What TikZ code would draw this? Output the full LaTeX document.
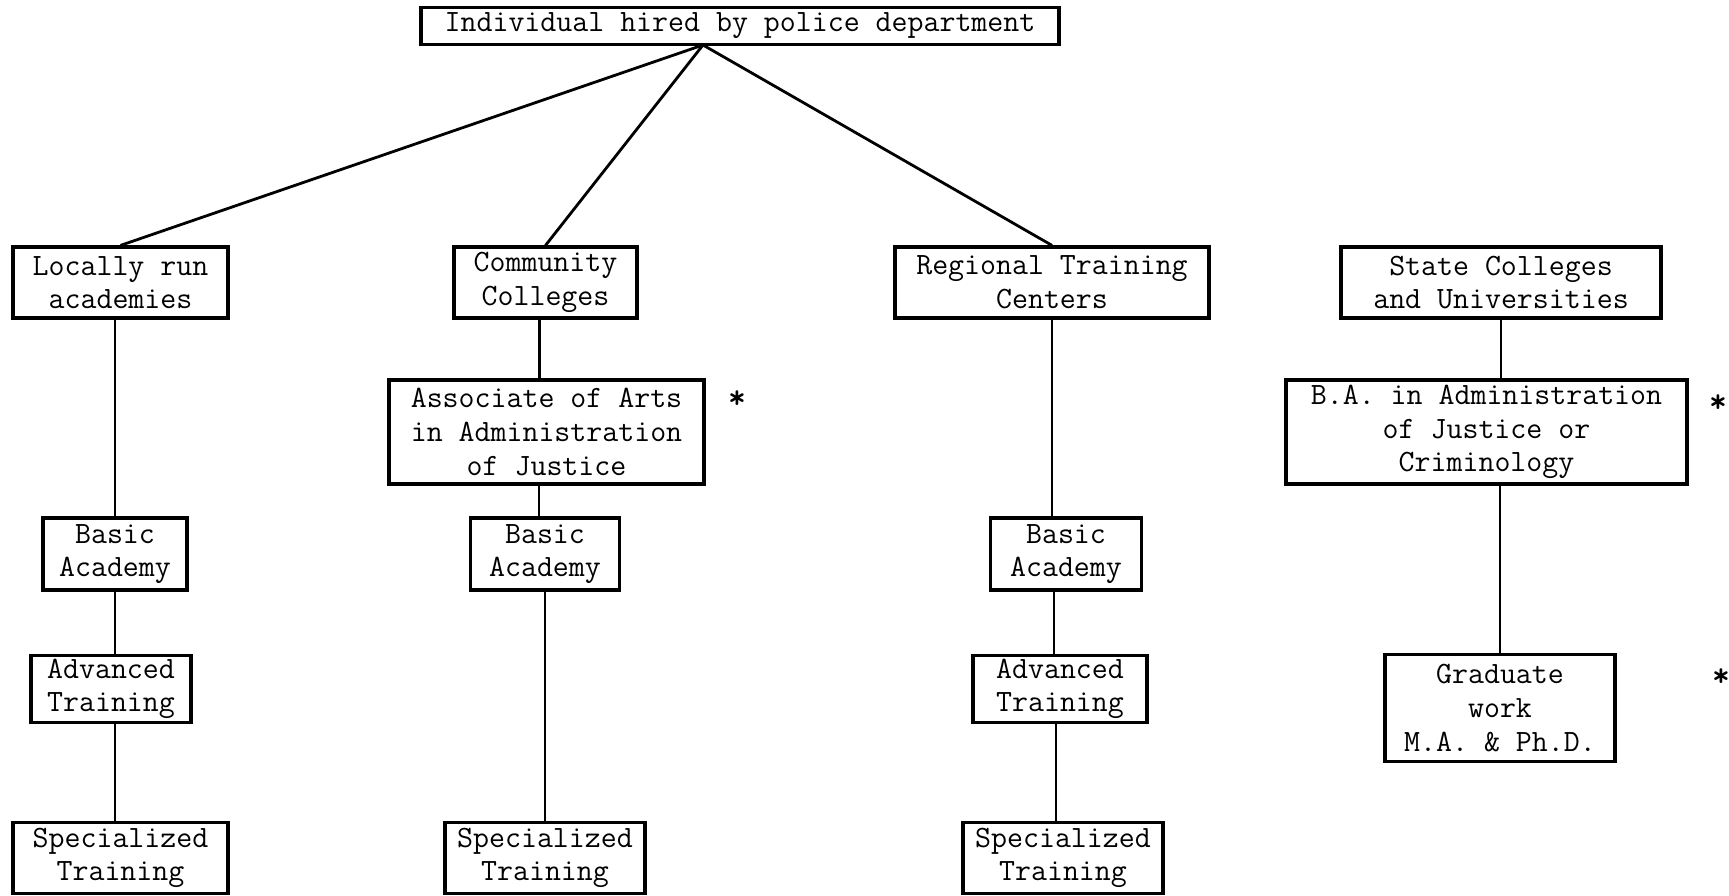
\documentclass[tikz,border=0pt]{standalone}
\usepackage{fontspec}
\begin{document}
\begin{tikzpicture}[x=0.5pt,y=-0.5pt,
  box/.style={draw, line width=1.6pt, align=center, inner sep=0pt,
    font=\ttfamily\fontsize{15.5}{16.8}\selectfont},
  conn/.style={line width=1.4pt},
  star/.style={inner sep=0pt, font=\ttfamily\bfseries\fontsize{17}{17}\selectfont}]
\useasboundingbox (0,0) rectangle (1729,895);
\node[box, minimum width=319pt, minimum height=18.5pt] (top) at (740,26) {Individual hired by police department};
\node[box, minimum width=107.5pt, minimum height=35.5pt] (loc) at (120.5,282.5) {Locally run\\academies};
\node[box, minimum width=91.5pt, minimum height=35.5pt] (cc) at (545.5,282.5) {Community\\Colleges};
\node[box, minimum width=157pt, minimum height=35.5pt] (rtc) at (1052,282.5) {Regional Training\\Centers};
\node[box, minimum width=160pt, minimum height=35.5pt] (scu) at (1501,282.5) {State Colleges\\and Universities};
\node[box, minimum width=157.5pt, minimum height=52pt] (aa) at (546.5,432) {Associate of Arts\\in Administration\\of Justice};
\node[box, minimum width=200.5pt, minimum height=52pt] (ba) at (1486.5,432) {B.A. in Administration\\of Justice or\\Criminology};
\node[box, minimum width=72pt, minimum height=36pt] (basL) at (115,554) {Basic\\Academy};
\node[box, minimum width=74.5pt, minimum height=36pt] (basM) at (545,554) {Basic\\Academy};
\node[box, minimum width=75.5pt, minimum height=36pt] (basR) at (1066,554) {Basic\\Academy};
\node[box, minimum width=80pt, minimum height=33.5pt] (advL) at (111,689) {Advanced\\Training};
\node[box, minimum width=87pt, minimum height=33.5pt] (advR) at (1060,689) {Advanced\\Training};
\node[box, minimum width=107.5pt, minimum height=35.5pt] (spL) at (120.5,858) {Specialized\\Training};
\node[box, minimum width=100pt, minimum height=35.5pt] (spM) at (545,858) {Specialized\\Training};
\node[box, minimum width=100pt, minimum height=35.5pt] (spR) at (1063,858) {Specialized\\Training};
\node[box, minimum width=115pt, minimum height=53.5pt] (grad) at (1500,708) {Graduate\\work\\M.A. \& Ph.D.};
\node[star] (s1) at (737,400) {*};
\node[star] (s2) at (1718,404) {*};
\node[star] (s3) at (1721,678) {*};
\coordinate (apex) at (703,45);
\draw[conn] (apex) -- (loc.north);
\draw[conn] (apex) -- (cc.north);
\draw[conn] (apex) -- (rtc.north);
\draw[conn] (basL.north |- loc.south) -- (basL.north);
\draw[conn] (basL.south) -- (basL.south |- advL.north);
\draw[conn] (advL.south -| basL) -- (spL.north -| basL);
\draw[conn] ([xshift=-3pt]cc.south) -- ([xshift=-3pt]cc.south |- aa.north);
\draw[conn] ([xshift=-3pt]basM.north |- aa.south) -- ([xshift=-3pt]basM.north);
\draw[conn] (basM.south) -- (spM.north);
\draw[conn] (rtc.south) -- (rtc.south |- basR.north);
\draw[conn] ([xshift=-6pt]basR.south) -- ([xshift=-6pt]basR.south |- advR.north);
\draw[conn] ([xshift=-2pt]advR.south) -- ([xshift=-2pt]advR.south |- spR.north);
\draw[conn] (scu.south) -- (scu.south |- ba.north);
\draw[conn] (grad.north |- ba.south) -- (grad.north);
\end{tikzpicture}
\end{document}
